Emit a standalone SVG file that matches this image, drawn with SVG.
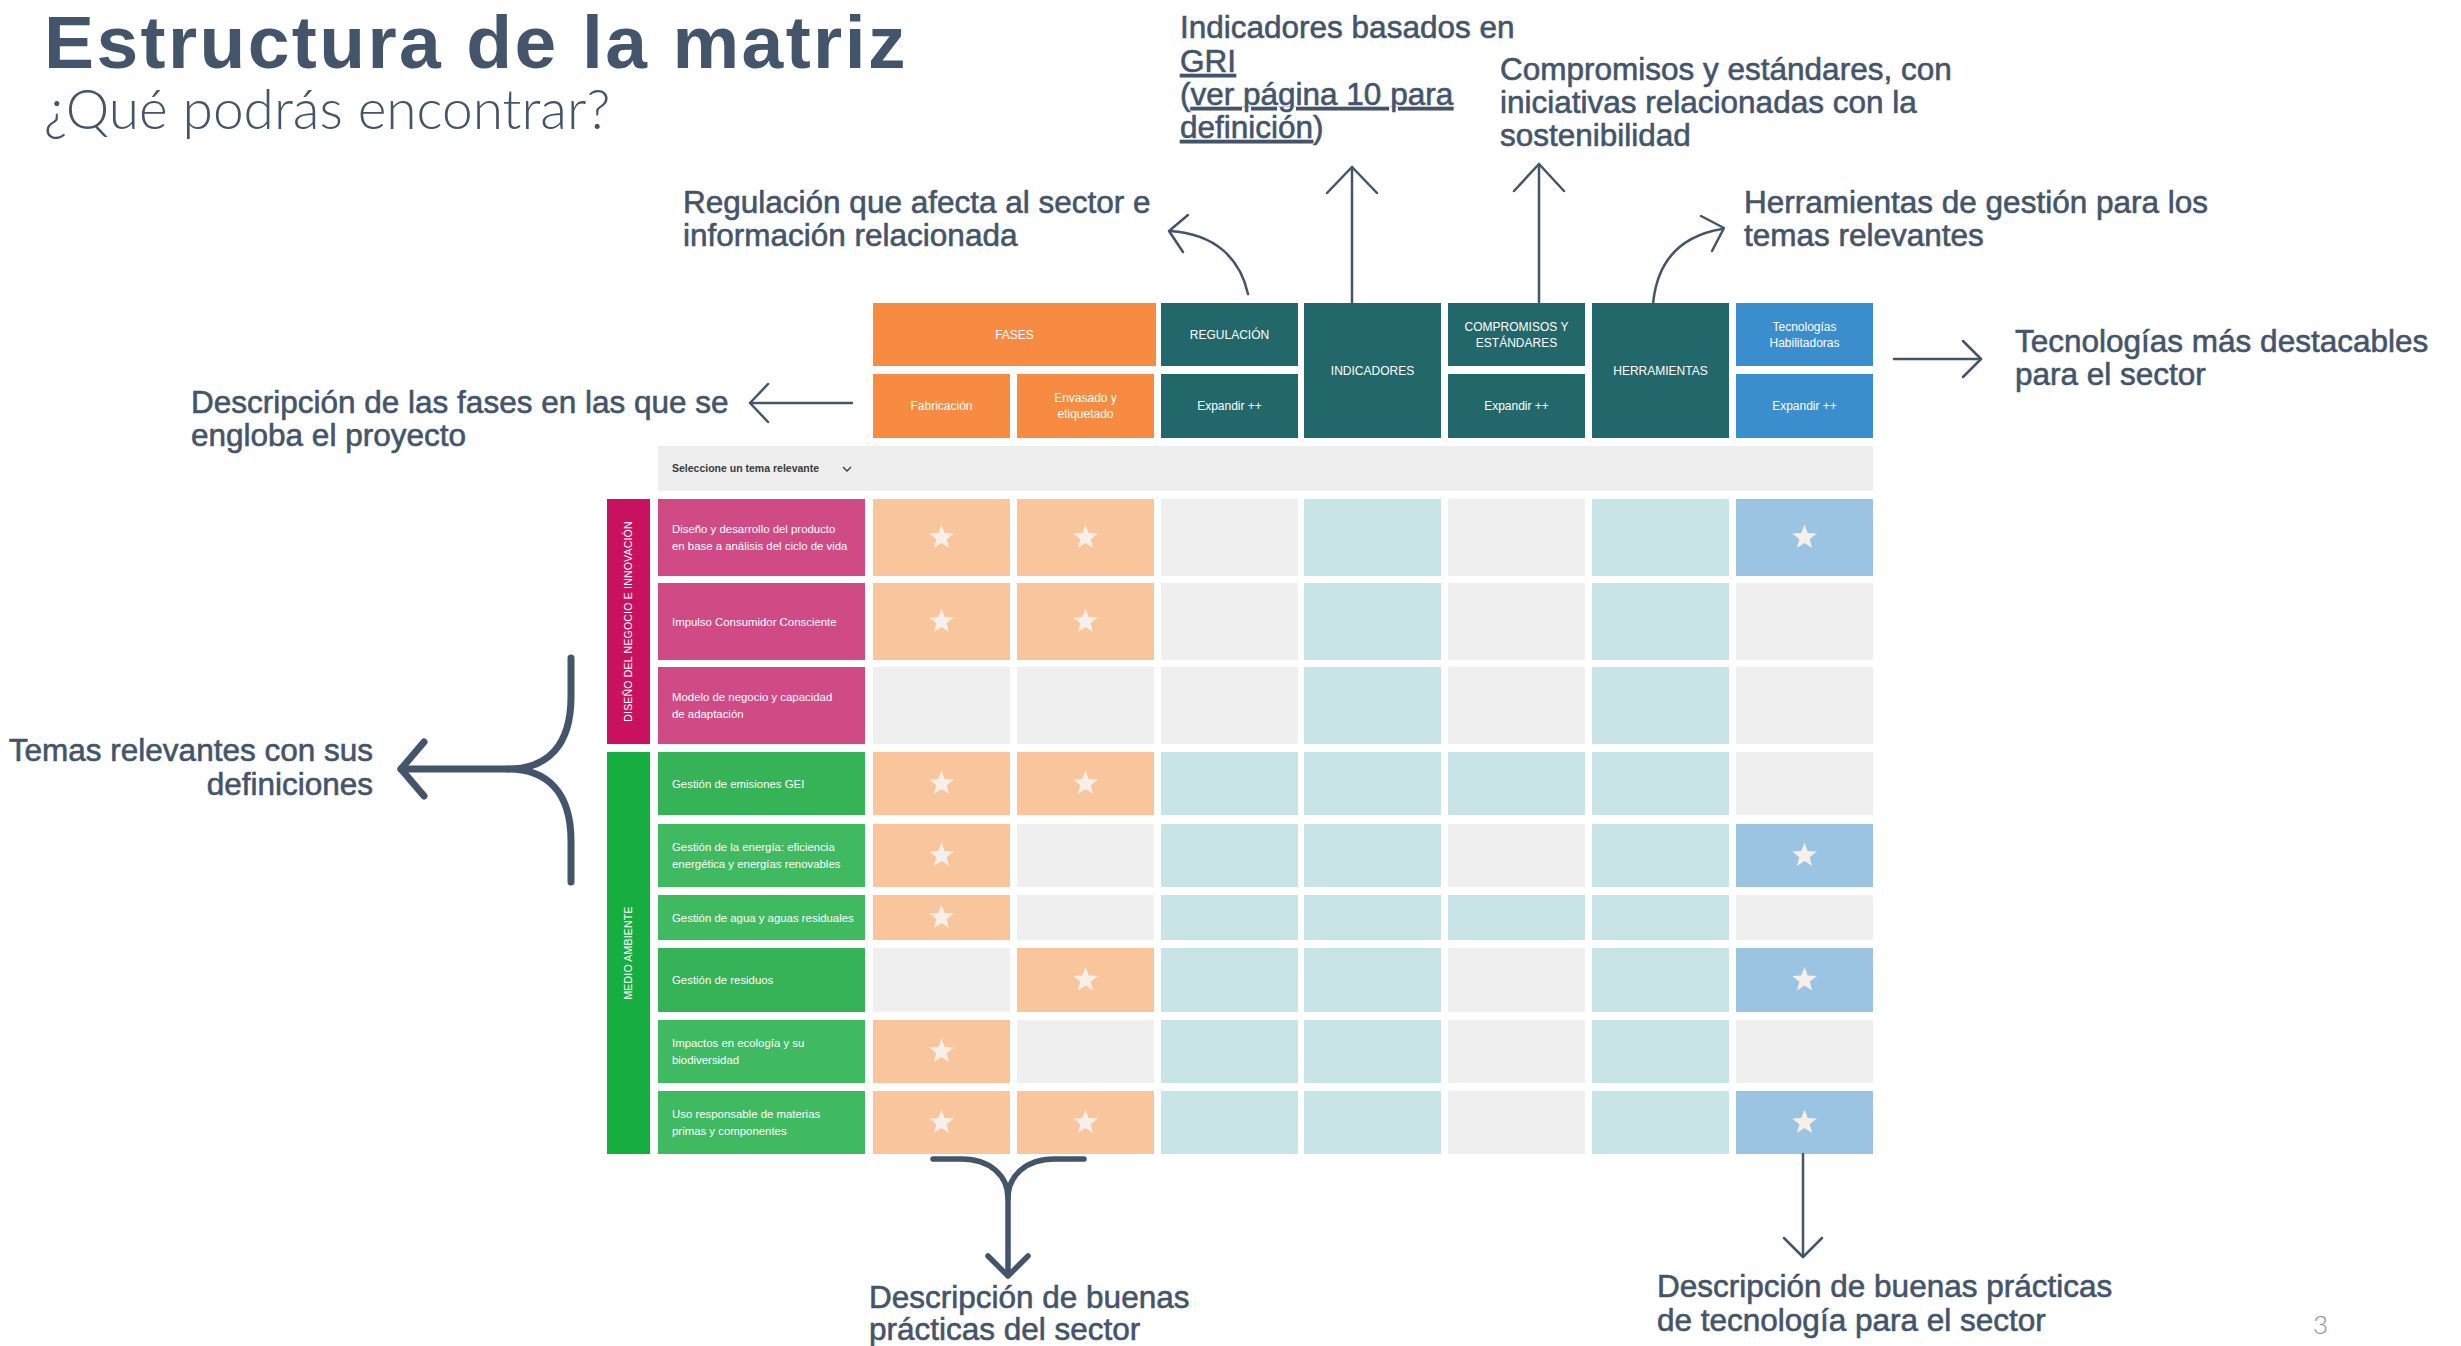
<svg xmlns="http://www.w3.org/2000/svg" xmlns:xlink="http://www.w3.org/1999/xlink" width="2461" height="1346" viewBox="0 0 2461 1346">
<style>
.title{font-family:"Liberation Sans",Arial,sans-serif;font-weight:bold;font-size:75px;letter-spacing:2.4px;fill:#44546A}
.sub{font-family:Lato,"Liberation Sans",sans-serif;font-weight:300;font-size:55px;fill:#44546A}
.ann{font-family:"Liberation Sans",Arial,sans-serif;font-size:31.5px;fill:#44546A;stroke:#44546A;stroke-width:0.6px}
.u{text-decoration:underline}
.hd{font-family:"Liberation Sans Narrow","Liberation Sans",sans-serif;font-size:12px;fill:#FFFFFF;text-anchor:middle}
.lb{font-family:"Liberation Sans Narrow","Liberation Sans",sans-serif;font-size:11.4px;fill:#FFFFFF}
.cat{font-family:"Liberation Sans",sans-serif;font-size:10.5px;letter-spacing:0.2px;fill:#FFFFFF;text-anchor:middle}
.sel{font-family:"Liberation Sans",sans-serif;font-weight:bold;font-size:10.5px;fill:#3a3a3a}
.o{fill:#F9C59D}.t{fill:#C9E4E6}.g{fill:#EFEFEF}.b{fill:#9AC4E1}
.or{fill:#F68B41}.tl{fill:#22686A}.bl{fill:#3A8ECD}
.pk{fill:#D04B86}.gr{fill:#40BA61}.gr2{fill:#36B257}
.ln{fill:none;stroke:#44546A;stroke-linecap:round;stroke-linejoin:round;stroke-width:2.5}
.thick{stroke-width:7}
.mid{stroke-width:5.5}
.star{fill:#F6EFEA}
.pg{font-family:Lato,"Liberation Sans",sans-serif;font-weight:300;font-size:26px;fill:#8C8C8C}
</style>
<defs>
<path id="star" class="star" d="M0,-13 L3.18,-4.39 L12.36,-4.02 L5.16,1.68 L7.64,10.52 L0,5.42 L-7.64,10.52 L-5.16,1.68 L-12.36,-4.02 L-3.18,-4.39 Z"/>
</defs>
<rect width="2461" height="1346" fill="#FFFFFF"/>

<g id="title">
<text class="title" x="44" y="68">Estructura de la matriz</text>
<text class="sub" x="44" y="129">¿Qué podrás encontrar?</text>
</g>

<g id="header">
<rect class="or" x="873" y="303" width="283" height="63"/>
<text class="hd" x="1014.5" y="339">FASES</text>
<rect class="or" x="873" y="374" width="137" height="64"/>
<text class="hd" x="941.5" y="410">Fabricación</text>
<rect class="or" x="1017" y="374" width="137" height="64"/>
<text class="hd" x="1085.5" y="402">Envasado y</text>
<text class="hd" x="1085.5" y="418">etiquetado</text>
<rect class="tl" x="1161" y="303" width="137" height="63"/>
<text class="hd" x="1229.5" y="339">REGULACIÓN</text>
<rect class="tl" x="1161" y="374" width="137" height="64"/>
<text class="hd" x="1229.5" y="410">Expandir ++</text>
<rect class="tl" x="1304" y="303" width="137" height="135"/>
<text class="hd" x="1372.5" y="375">INDICADORES</text>
<rect class="tl" x="1448" y="303" width="137" height="63"/>
<text class="hd" x="1516.5" y="331">COMPROMISOS Y</text>
<text class="hd" x="1516.5" y="347">ESTÁNDARES</text>
<rect class="tl" x="1448" y="374" width="137" height="64"/>
<text class="hd" x="1516.5" y="410">Expandir ++</text>
<rect class="tl" x="1592" y="303" width="137" height="135"/>
<text class="hd" x="1660.5" y="375">HERRAMIENTAS</text>
<rect class="bl" x="1736" y="303" width="137" height="63"/>
<text class="hd" x="1804.5" y="331">Tecnologías</text>
<text class="hd" x="1804.5" y="347">Habilitadoras</text>
<rect class="bl" x="1736" y="374" width="137" height="64"/>
<text class="hd" x="1804.5" y="410">Expandir ++</text>
</g>

<g id="selector">
<rect x="658" y="446" width="1215" height="45" fill="#EEEEEE"/>
<text class="sel" x="672" y="472">Seleccione un tema relevante</text>
<polyline points="843,467 847,471 851,467" fill="none" stroke="#3a3a3a" stroke-width="1.3"/>
</g>

<g id="categories">
<rect x="607" y="499" width="43" height="245" fill="#C9125F"/>
<text class="cat" transform="translate(632,621.5) rotate(-90)">DISEÑO DEL NEGOCIO E INNOVACIÓN</text>
<rect x="607" y="752" width="43" height="402" fill="#17AE41"/>
<text class="cat" transform="translate(632,953) rotate(-90)">MEDIO AMBIENTE</text>
</g>

<g id="row1">
<rect class="pk" x="658" y="499" width="207" height="77"/>
<text class="lb" x="672" y="532.5">Diseño y desarrollo del producto</text>
<text class="lb" x="672" y="549.5">en base a análisis del ciclo de vida</text>
<rect class="o" x="873" y="499" width="137" height="77"/><rect class="o" x="1017" y="499" width="137" height="77"/>
<rect class="g" x="1161" y="499" width="137" height="77"/><rect class="t" x="1304" y="499" width="137" height="77"/>
<rect class="g" x="1448" y="499" width="137" height="77"/><rect class="t" x="1592" y="499" width="137" height="77"/>
<rect class="b" x="1736" y="499" width="137" height="77"/>
<use href="#star" transform="translate(941.5,537.5)"/><use href="#star" transform="translate(1085.5,537.5)"/><use href="#star" transform="translate(1804.5,537.5)"/>
</g>

<g id="row2">
<rect class="pk" x="658" y="583" width="207" height="77"/>
<text class="lb" x="672" y="625.5">Impulso Consumidor Consciente</text>
<rect class="o" x="873" y="583" width="137" height="77"/><rect class="o" x="1017" y="583" width="137" height="77"/>
<rect class="g" x="1161" y="583" width="137" height="77"/><rect class="t" x="1304" y="583" width="137" height="77"/>
<rect class="g" x="1448" y="583" width="137" height="77"/><rect class="t" x="1592" y="583" width="137" height="77"/>
<rect class="g" x="1736" y="583" width="137" height="77"/>
<use href="#star" transform="translate(941.5,621.5)"/><use href="#star" transform="translate(1085.5,621.5)"/>
</g>

<g id="row3">
<rect class="pk" x="658" y="667" width="207" height="77"/>
<text class="lb" x="672" y="700.5">Modelo de negocio y capacidad</text>
<text class="lb" x="672" y="717.5">de adaptación</text>
<rect class="g" x="873" y="667" width="137" height="77"/><rect class="g" x="1017" y="667" width="137" height="77"/>
<rect class="g" x="1161" y="667" width="137" height="77"/><rect class="t" x="1304" y="667" width="137" height="77"/>
<rect class="g" x="1448" y="667" width="137" height="77"/><rect class="t" x="1592" y="667" width="137" height="77"/>
<rect class="g" x="1736" y="667" width="137" height="77"/>
</g>

<g id="row4">
<rect class="gr2" x="658" y="752" width="207" height="63"/>
<text class="lb" x="672" y="787.5">Gestión de emisiones GEI</text>
<rect class="o" x="873" y="752" width="137" height="63"/><rect class="o" x="1017" y="752" width="137" height="63"/>
<rect class="t" x="1161" y="752" width="137" height="63"/><rect class="t" x="1304" y="752" width="137" height="63"/>
<rect class="t" x="1448" y="752" width="137" height="63"/><rect class="t" x="1592" y="752" width="137" height="63"/>
<rect class="g" x="1736" y="752" width="137" height="63"/>
<use href="#star" transform="translate(941.5,783.5)"/><use href="#star" transform="translate(1085.5,783.5)"/>
</g>

<g id="row5">
<rect class="gr" x="658" y="824" width="207" height="63"/>
<text class="lb" x="672" y="850.5">Gestión de la energía: eficiencia</text>
<text class="lb" x="672" y="867.5">energética y energías renovables</text>
<rect class="o" x="873" y="824" width="137" height="63"/><rect class="g" x="1017" y="824" width="137" height="63"/>
<rect class="t" x="1161" y="824" width="137" height="63"/><rect class="t" x="1304" y="824" width="137" height="63"/>
<rect class="g" x="1448" y="824" width="137" height="63"/><rect class="t" x="1592" y="824" width="137" height="63"/>
<rect class="b" x="1736" y="824" width="137" height="63"/>
<use href="#star" transform="translate(941.5,855.5)"/><use href="#star" transform="translate(1804.5,855.5)"/>
</g>

<g id="row6">
<rect class="gr" x="658" y="895" width="207" height="45"/>
<text class="lb" x="672" y="921.5">Gestión de agua y aguas residuales</text>
<rect class="o" x="873" y="895" width="137" height="45"/><rect class="g" x="1017" y="895" width="137" height="45"/>
<rect class="t" x="1161" y="895" width="137" height="45"/><rect class="t" x="1304" y="895" width="137" height="45"/>
<rect class="t" x="1448" y="895" width="137" height="45"/><rect class="t" x="1592" y="895" width="137" height="45"/>
<rect class="g" x="1736" y="895" width="137" height="45"/>
<use href="#star" transform="translate(941.5,917.5)"/>
</g>

<g id="row7">
<rect class="gr2" x="658" y="948" width="207" height="64"/>
<text class="lb" x="672" y="984">Gestión de residuos</text>
<rect class="g" x="873" y="948" width="137" height="64"/><rect class="o" x="1017" y="948" width="137" height="64"/>
<rect class="t" x="1161" y="948" width="137" height="64"/><rect class="t" x="1304" y="948" width="137" height="64"/>
<rect class="g" x="1448" y="948" width="137" height="64"/><rect class="t" x="1592" y="948" width="137" height="64"/>
<rect class="b" x="1736" y="948" width="137" height="64"/>
<use href="#star" transform="translate(1085.5,980)"/><use href="#star" transform="translate(1804.5,980)"/>
</g>

<g id="row8">
<rect class="gr" x="658" y="1020" width="207" height="63"/>
<text class="lb" x="672" y="1046.5">Impactos en ecología y su</text>
<text class="lb" x="672" y="1063.5">biodiversidad</text>
<rect class="o" x="873" y="1020" width="137" height="63"/><rect class="g" x="1017" y="1020" width="137" height="63"/>
<rect class="t" x="1161" y="1020" width="137" height="63"/><rect class="t" x="1304" y="1020" width="137" height="63"/>
<rect class="g" x="1448" y="1020" width="137" height="63"/><rect class="t" x="1592" y="1020" width="137" height="63"/>
<rect class="g" x="1736" y="1020" width="137" height="63"/>
<use href="#star" transform="translate(941.5,1051.5)"/>
</g>

<g id="row9">
<rect class="gr" x="658" y="1091" width="207" height="63"/>
<text class="lb" x="672" y="1117.5">Uso responsable de materias</text>
<text class="lb" x="672" y="1134.5">primas y componentes</text>
<rect class="o" x="873" y="1091" width="137" height="63"/><rect class="o" x="1017" y="1091" width="137" height="63"/>
<rect class="t" x="1161" y="1091" width="137" height="63"/><rect class="t" x="1304" y="1091" width="137" height="63"/>
<rect class="g" x="1448" y="1091" width="137" height="63"/><rect class="t" x="1592" y="1091" width="137" height="63"/>
<rect class="b" x="1736" y="1091" width="137" height="63"/>
<use href="#star" transform="translate(941.5,1122.5)"/><use href="#star" transform="translate(1085.5,1122.5)"/><use href="#star" transform="translate(1804.5,1122.5)"/>
</g>

<g id="annotations">
<text class="ann" x="1180" y="38">Indicadores basados en</text>
<text class="ann" x="1180" y="72"><tspan class="u">GRI</tspan></text>
<text class="ann" x="1180" y="105">(<tspan class="u">ver página 10 para</tspan></text>
<text class="ann" x="1180" y="138"><tspan class="u">definición</tspan>)</text>
<text class="ann" x="1500" y="80">Compromisos y estándares, con</text>
<text class="ann" x="1500" y="113">iniciativas relacionadas con la</text>
<text class="ann" x="1500" y="146">sostenibilidad</text>
<text class="ann" x="683" y="213">Regulación que afecta al sector e</text>
<text class="ann" x="683" y="246">información relacionada</text>
<text class="ann" x="1744" y="213">Herramientas de gestión para los</text>
<text class="ann" x="1744" y="246">temas relevantes</text>
<text class="ann" x="2015" y="352">Tecnologías más destacables</text>
<text class="ann" x="2015" y="385">para el sector</text>
<text class="ann" x="191" y="413">Descripción de las fases en las que se</text>
<text class="ann" x="191" y="446">engloba el proyecto</text>
<text class="ann" x="373" y="761" text-anchor="end">Temas relevantes con sus</text>
<text class="ann" x="373" y="795" text-anchor="end">definiciones</text>
<text class="ann" x="869" y="1308">Descripción de buenas</text>
<text class="ann" x="869" y="1340">prácticas del sector</text>
<text class="ann" x="1657" y="1297">Descripción de buenas prácticas</text>
<text class="ann" x="1657" y="1331">de tecnología para el sector</text>
<text class="pg" x="2313" y="1334">3</text>
</g>

<g id="connectors">
<path class="ln" d="M1248,294 C1240,258 1215,234 1170,231"/>
<path class="ln" d="M1188,215 L1169,231 L1183,252"/>
<path class="ln" d="M1352,304 L1352,167"/>
<path class="ln" d="M1327,193 L1352,167 L1377,193"/>
<path class="ln" d="M1539,302 L1539,164"/>
<path class="ln" d="M1514,191 L1539,164 L1564,191"/>
<path class="ln" d="M1653,304 C1657,262 1680,236 1722,229"/>
<path class="ln" d="M1701,216 L1724,228 L1712,251"/>
<path class="ln" d="M1894,359 L1981,359"/>
<path class="ln" d="M1963,341 L1981,359 L1963,377"/>
<path class="ln" d="M852,403 L750,403"/>
<path class="ln" d="M768,384 L750,403 L768,422"/>
<path class="ln thick" d="M571,658 L571,697 C571,745 548,769 508,769 C548,769 571,793 571,841 L571,882"/>
<path class="ln thick" d="M508,769 L401,769"/>
<path class="ln thick" d="M424,742 L401,769 L424,796"/>
<path class="ln mid" d="M933,1159 L962,1159 C990,1159 1008,1176 1008,1198 C1008,1176 1026,1159 1054,1159 L1084,1159"/>
<path class="ln mid" d="M1008,1198 L1008,1275"/>
<path class="ln mid" d="M988,1256 L1008,1276 L1028,1256"/>
<path class="ln" d="M1803,1154 L1803,1257"/>
<path class="ln" d="M1784,1238 L1803,1257 L1822,1238"/>
</g>
</svg>
